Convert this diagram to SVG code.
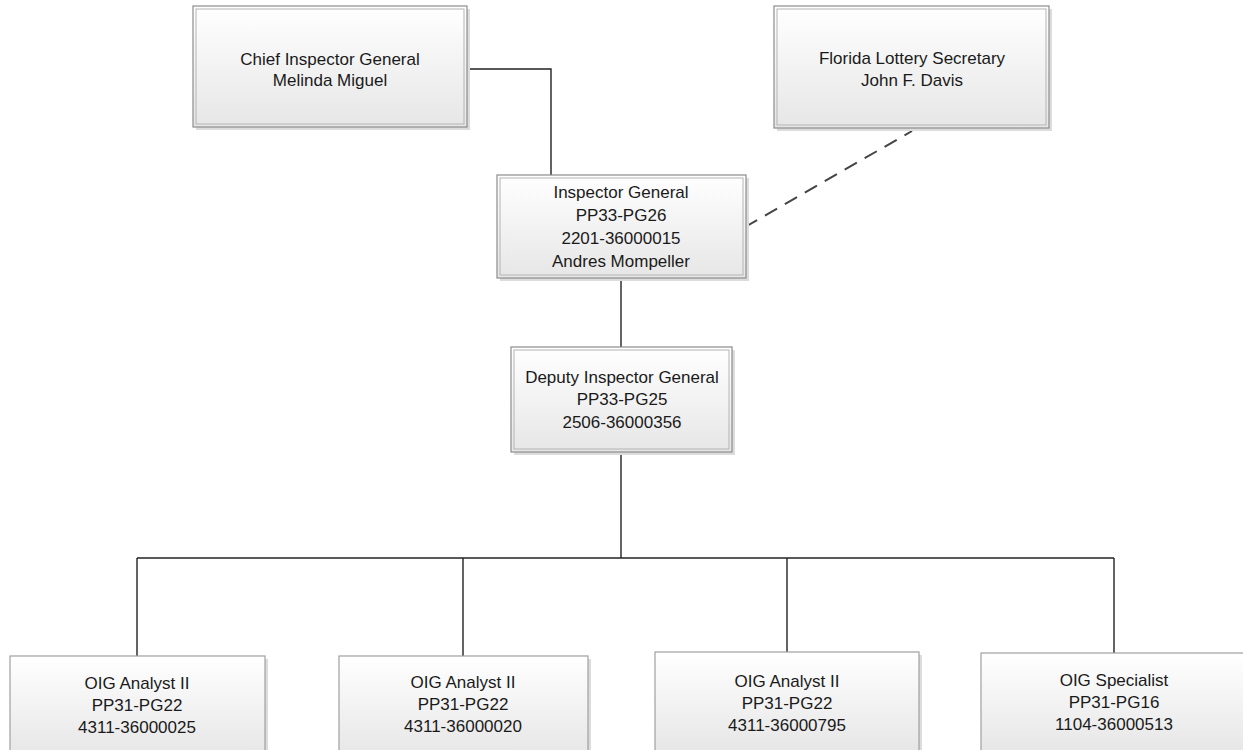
<svg xmlns="http://www.w3.org/2000/svg" width="1243" height="750" viewBox="0 0 1243 750">
<defs>
<linearGradient id="g" x1="0" y1="0" x2="0" y2="1">
<stop offset="0" stop-color="#ffffff"/>
<stop offset="1" stop-color="#e6e6e6"/>
</linearGradient>
<style>
.sh{fill:#dcdcdc;}
.box{fill:url(#g);stroke:#8c8c8c;stroke-width:1.2;}
.inner{fill:none;stroke:#b4b4b4;stroke-width:1;}
.box2{fill:url(#g);stroke:#a0a0a0;stroke-width:1.2;}
text{font-family:"Liberation Sans",Arial,sans-serif;font-size:17px;fill:#1a1a1a;text-anchor:middle;}
.ln{fill:none;stroke:#222;stroke-width:1.4;}
.dash{fill:none;stroke:#444;stroke-width:2;stroke-dasharray:14,9;}
</style>
</defs>
<rect width="1243" height="750" fill="#ffffff"/>
<g id="connectors">
<path class="ln" d="M467,69 H551 V175"/>
<path class="dash" d="M745,227 L912,131"/>
<path class="ln" d="M621,278 V347"/>
<path class="ln" d="M621,452 V558"/>
<path class="ln" d="M137,558 H1114"/>
<path class="ln" d="M137,558 V656"/>
<path class="ln" d="M463,558 V656"/>
<path class="ln" d="M787,558 V652"/>
<path class="ln" d="M1114,558 V653"/>
</g>
<g id="chief">
<rect class="sh" x="196" y="9" width="274" height="121"/>
<rect class="box" x="193" y="6" width="274" height="121"/>
<rect class="inner" x="196" y="9" width="268" height="115"/>
<text x="330" y="65">Chief Inspector General</text>
<text x="330" y="86">Melinda Miguel</text>
</g>
<g id="secretary">
<rect class="sh" x="777" y="9" width="275" height="122"/>
<rect class="box" x="774" y="6" width="275" height="122"/>
<rect class="inner" x="777" y="9" width="269" height="116"/>
<text x="912" y="64">Florida Lottery Secretary</text>
<text x="912" y="86">John F. Davis</text>
</g>
<g id="ig">
<rect class="sh" x="500" y="178" width="249" height="103"/>
<rect class="box" x="497" y="175" width="249" height="103"/>
<rect class="inner" x="500" y="178" width="243" height="97"/>
<text x="621" y="198">Inspector General</text>
<text x="621" y="221">PP33-PG26</text>
<text x="621" y="244">2201-36000015</text>
<text x="621" y="267">Andres Mompeller</text>
</g>
<g id="deputy">
<rect class="sh" x="514" y="350" width="221" height="105"/>
<rect class="box" x="511" y="347" width="221" height="105"/>
<rect class="inner" x="514" y="350" width="215" height="99"/>
<text x="622" y="383">Deputy Inspector General</text>
<text x="622" y="405">PP33-PG25</text>
<text x="622" y="428">2506-36000356</text>
</g>
<g id="analyst1">
<rect class="sh" x="13" y="659" width="255" height="100"/>
<rect class="box2" x="10" y="656" width="255" height="100"/>
<text x="137" y="689">OIG Analyst II</text>
<text x="137" y="711">PP31-PG22</text>
<text x="137" y="733">4311-36000025</text>
</g>
<g id="analyst2">
<rect class="sh" x="342" y="659" width="249" height="100"/>
<rect class="box2" x="339" y="656" width="249" height="100"/>
<text x="463" y="688">OIG Analyst II</text>
<text x="463" y="710">PP31-PG22</text>
<text x="463" y="732">4311-36000020</text>
</g>
<g id="analyst3">
<rect class="sh" x="658" y="655" width="264" height="100"/>
<rect class="box2" x="655" y="652" width="264" height="100"/>
<text x="787" y="687">OIG Analyst II</text>
<text x="787" y="709">PP31-PG22</text>
<text x="787" y="731">4311-36000795</text>
</g>
<g id="specialist">
<rect class="box2" x="981" y="653" width="275" height="100"/>
<text x="1114" y="686">OIG Specialist</text>
<text x="1114" y="708">PP31-PG16</text>
<text x="1114" y="730">1104-36000513</text>
</g>
</svg>
